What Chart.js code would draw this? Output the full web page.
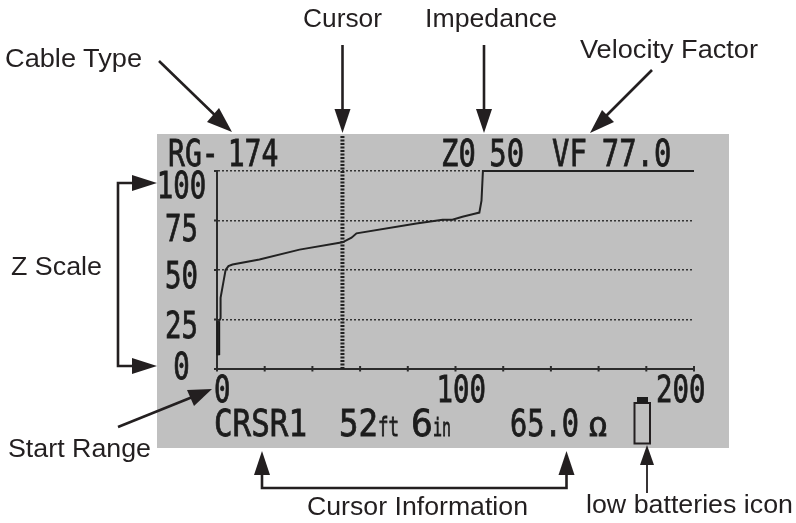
<!DOCTYPE html>
<html>
<head>
<meta charset="utf-8">
<style>
html,body{margin:0;padding:0;background:#fff;width:796px;height:523px;overflow:hidden}
#panel{position:absolute;left:157px;top:134px;width:572px;height:314px;background:#c0c0c0}
#c{position:absolute;left:0;top:0;z-index:1}
#wrap{position:absolute;left:0;top:0;width:796px;height:523px}
svg{position:absolute;left:0;top:0;z-index:2}
.lcd{font-family:"DejaVu Sans Mono",monospace;font-weight:normal;fill:#1c1c1c;stroke:#1c1c1c;stroke-width:0.8}
.note{font-family:"Liberation Sans",Arial,sans-serif;fill:#231f20;font-size:26px}
.arr{stroke:#231f20;stroke-width:2.6;fill:none}
.head{fill:#231f20;stroke:none}
</style>
<script src="https://cdn.jsdelivr.net/npm/chart.js@4"></script>
</head>
<body>
<div id="panel"></div>
<div id="wrap"><canvas id="c" width="796" height="523"></canvas></div>
<svg width="796" height="523" viewBox="0 0 796 523" id="ov">
  <text class="lcd" transform="translate(168,166) scale(.74,1)" font-size="38"><tspan>RG-</tspan><tspan dx="12">174</tspan></text>
  <text class="lcd" transform="translate(441,166) scale(.76,1)" font-size="38"><tspan>Z0 </tspan><tspan dx="-5">50</tspan></text>
  <text class="lcd" transform="translate(552,166) scale(.76,1)" font-size="38"><tspan>VF </tspan><tspan dx="-3">77.0</tspan></text>
  <text class="lcd" x="214" y="436" font-size="37" textLength="93" lengthAdjust="spacingAndGlyphs">CRSR1</text>
  <text class="lcd" x="339" y="436" font-size="37" textLength="39" lengthAdjust="spacingAndGlyphs">52</text>
  <text class="lcd" x="378" y="436" font-size="26" textLength="21" lengthAdjust="spacingAndGlyphs">ft</text>
  <text class="lcd" x="411" y="436" font-size="37" textLength="22" lengthAdjust="spacingAndGlyphs">6</text>
  <text class="lcd" x="433" y="436" font-size="24" textLength="18" lengthAdjust="spacingAndGlyphs">in</text>
  <text class="lcd" x="510" y="436" font-size="37" textLength="69" lengthAdjust="spacingAndGlyphs">65.0</text>
  <text class="lcd" x="589" y="436" font-size="26" textLength="18" lengthAdjust="spacingAndGlyphs">Ω</text>

  <text class="note" x="5" y="67" textLength="137" lengthAdjust="spacingAndGlyphs">Cable Type</text>
  <text class="note" x="303" y="27" textLength="79" lengthAdjust="spacingAndGlyphs">Cursor</text>
  <text class="note" x="425" y="27" textLength="132" lengthAdjust="spacingAndGlyphs">Impedance</text>
  <text class="note" x="580" y="58" textLength="178" lengthAdjust="spacingAndGlyphs">Velocity Factor</text>
  <text class="note" x="11" y="275" textLength="91" lengthAdjust="spacingAndGlyphs">Z Scale</text>
  <text class="note" x="8" y="457" textLength="143" lengthAdjust="spacingAndGlyphs">Start Range</text>
  <text class="note" x="307" y="515" textLength="221" lengthAdjust="spacingAndGlyphs">Cursor Information</text>
  <text class="note" x="586" y="513" textLength="207" lengthAdjust="spacingAndGlyphs">low batteries icon</text>

  <path class="arr" d="M159 61L222 122"/><polygon class="head" points="232,132 207,122 219,108"/>
  <path class="arr" d="M342.5 45V112"/><polygon class="head" points="342.5,133 334.5,109 350.5,109"/>
  <path class="arr" d="M484 45V112"/><polygon class="head" points="484,133 476,109 492,109"/>
  <path class="arr" d="M652 70L600 122"/><polygon class="head" points="590,133 602,110 614,122"/>
  <path class="arr" d="M135 183H118V366H135"/>
  <polygon class="head" points="157,183 132,175 132,191"/>
  <polygon class="head" points="157,366 132,358 132,374"/>
  <path class="arr" d="M118 427L195 396"/><polygon class="head" points="212,389 194,406 187,390"/>
  <path class="arr" d="M262 472V488H566.5V472"/>
  <polygon class="head" points="262,451 254,475 270,475"/>
  <polygon class="head" points="566.5,451 558.5,475 574.5,475"/>
  <path class="arr" d="M647 493V462" style="stroke-width:1.8"/><polygon class="head" points="647,445 640,465 654,465"/>

  <rect x="634.5" y="403" width="15.5" height="40.5" fill="none" stroke="#231f20" stroke-width="2"/>
  <rect x="637" y="397" width="11" height="6" fill="#1c1c1c"/>
</svg>
<script>
const xTickStep = 20;
const yTickStep = 25;
const xLabels = [0, 100, 200];
const yLabels = [100, 75, 50, 25, 0];
const distance = [0.6, 0.6, 1.5, 1.5, 2.7, 3.6, 4.8, 6.5, 17.8, 34.6, 52.6, 56.4, 58.5, 83.6, 94.6, 98.7, 102.9, 108, 110, 110.9, 111.5, 200];
const impedance = [7, 23.6, 25.6, 36, 44, 50, 52, 52.8, 55.3, 60.3, 64, 66.3, 68.5, 73.5, 75.4, 75.4, 76.9, 78.4, 79, 85, 100, 100];
const edgeDistance = [0.6, 0.6];
const edgeImpedance = [7, 24];
const cursorDistance = [52.6, 52.6];
const cursorImpedance = [0, 118];

const pairs = (a, b) => a.map((x, i) => ({x, y: b[i]}));

const lcdAxes = {
  id: 'lcdAxes',
  afterDraw(chart) {
    const ctx = chart.ctx, xs = chart.scales.x, ys = chart.scales.y;
    const y0 = ys.bottom, x0 = xs.left;
    ctx.save();
    ctx.strokeStyle = '#2b2b2b';
    ctx.lineWidth = 2;
    xs.ticks.forEach(t => {
      const p = xs.getPixelForValue(t.value);
      ctx.beginPath(); ctx.moveTo(p, y0 - 3); ctx.lineTo(p, y0 + 2.5); ctx.stroke();
    });
    ys.ticks.forEach(t => {
      const p = ys.getPixelForValue(t.value);
      ctx.beginPath(); ctx.moveTo(x0 - 3, p); ctx.lineTo(x0 + 1, p); ctx.stroke();
    });
    ctx.fillStyle = '#1c1c1c';
    ctx.strokeStyle = '#1c1c1c';
    ctx.lineWidth = 0.8;
    ctx.font = '37px "DejaVu Sans Mono", monospace';
    ctx.textBaseline = 'alphabetic';
    const shrink = 0.74;
    const xShift = {0: -3, 100: -19, 200: -38};
    const put = v => { ctx.fillText(String(v), 0, 0); ctx.strokeText(String(v), 0, 0); };
    ctx.textAlign = 'left';
    xLabels.forEach(v => {
      ctx.save();
      ctx.translate(xs.getPixelForValue(v) + xShift[v], y0 + 33);
      ctx.scale(shrink, 1);
      put(v);
      ctx.restore();
    });
    const yShift = {100: 27, 75: 20, 50: 18, 25: 18.5, 0: 10};
    ctx.textAlign = 'center';
    yLabels.forEach(v => {
      ctx.save();
      ctx.translate(x0 - 35.5, ys.getPixelForValue(v) + yShift[v]);
      ctx.scale(shrink, 1);
      put(v);
      ctx.restore();
    });
    ctx.restore();
  }
};

new Chart(document.getElementById('c'), {
  type: 'scatter',
  data: {
    datasets: [
      {label: 'Cursor', data: pairs(cursorDistance, cursorImpedance), showLine: true, clip: false,
       borderColor: '#222', borderWidth: 4, borderDash: [2, 1.5], pointRadius: 0},
      {label: 'Impedance', data: pairs(distance, impedance), showLine: true,
       borderColor: '#222', borderWidth: 2, pointRadius: 0, tension: 0, clip: false},
      {label: 'Start', data: pairs(edgeDistance, edgeImpedance), showLine: true,
       borderColor: '#111', borderWidth: 3.5, pointRadius: 0, clip: false}
    ]
  },
  options: {
    responsive: false,
    animation: false,
    layout: {padding: {left: 217, right: 102, top: 171, bottom: 154}},
    plugins: {legend: {display: false}, tooltip: {enabled: false}, title: {display: false}},
    scales: {
      x: {
        type: 'linear', min: 0, max: 200,
        ticks: {display: false, stepSize: xTickStep},
        grid: {drawOnChartArea: false, drawTicks: false},
        border: {display: true, color: '#2b2b2b', width: 2}
      },
      y: {
        type: 'linear', min: 0, max: 100,
        ticks: {display: false, stepSize: yTickStep},
        grid: {drawOnChartArea: true, drawTicks: false, color: '#333', lineWidth: 1.5},
        border: {display: true, color: '#2b2b2b', width: 2, dash: [2, 2]}
      }
    }
  },
  plugins: [lcdAxes]
});
</script>
</body>
</html>
